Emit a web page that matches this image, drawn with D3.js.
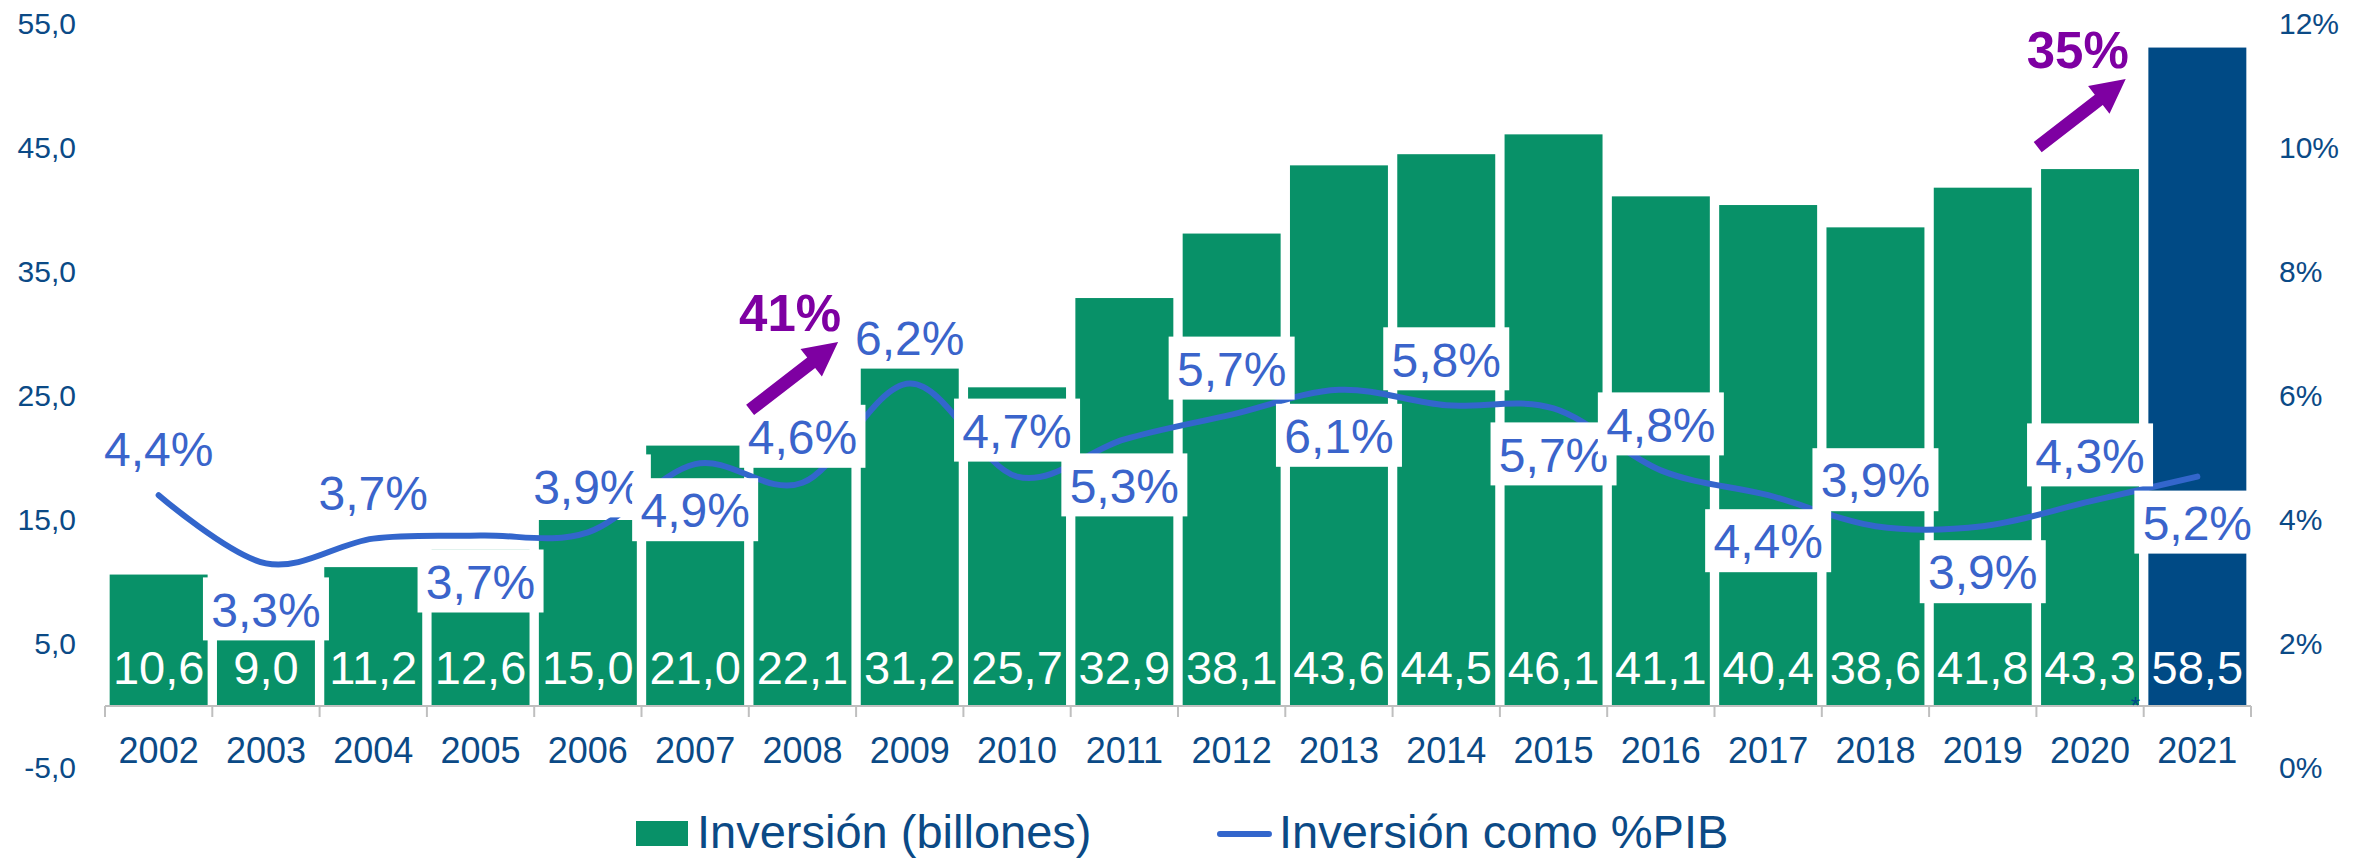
<!DOCTYPE html>
<html>
<head>
<meta charset="utf-8">
<script src="https://cdn.jsdelivr.net/npm/d3@7"></script>
<style>
  body { margin: 0; background: #fff; }
  text { font-family: "Liberation Sans", Arial, sans-serif; }
</style>
</head>
<body>
<div id="chart"></div>
<script>
// Data
var years = ["2002", "2003", "2004", "2005", "2006", "2007", "2008", "2009", "2010", "2011",
  "2012", "2013", "2014", "2015", "2016", "2017", "2018", "2019", "2020", "2021"];
// bar heights as drawn
var inversion = [10.6, 9.0, 11.2, 12.6, 15.0, 21.0, 22.1, 27.3, 25.7, 32.9,
  38.1, 43.6, 44.5, 46.1, 41.1, 40.4, 38.6, 41.8, 43.3, 53.1];
// value labels printed in the bars
var inversionLabels = ["10,6", "9,0", "11,2", "12,6", "15,0", "21,0", "22,1", "31,2", "25,7", "32,9",
  "38,1", "43,6", "44,5", "46,1", "41,1", "40,4", "38,6", "41,8", "43,3", "58,5"];
// line as drawn (% of GDP)
var pib = [4.4, 3.3, 3.7, 3.75, 3.8, 4.9, 4.6, 6.2, 4.7, 5.3,
  5.7, 6.1, 5.85, 5.8, 4.8, 4.4, 3.9, 3.9, 4.3, 4.7];
var pibLabels = ["4,4%", "3,3%", "3,7%", "3,7%", "3,9%", "4,9%", "4,6%", "6,2%", "4,7%", "5,3%",
  "5,7%", "6,1%", "5,8%", "5,7%", "4,8%", "4,4%", "3,9%", "3,9%", "4,3%", "5,2%"];
var pibLabelSide = ["up", "down", "up", "down", "up", "down", "up", "up", "up", "down",
  "up", "down", "up", "down", "up", "down", "up", "down", "up", "down"];
var leftTicks = [-5, 5, 15, 25, 35, 45, 55];
var rightTicks = [0, 2, 4, 6, 8, 10, 12];
var growthNotes = [
  { from: "2008", text: "41%" },
  { from: "2020", text: "35%" }
];
var highlightYear = "2021";
var noteYear = "2020";
var seriesNames = ["Inversión (billones)", "Inversión como %PIB"];

var W = 2372, H = 859,
  green = "#089168",
  navy = "#004a85",
  lineBlue = "#3366cc",
  labelBlue = "#3a64cb",
  purple = "#7e00a2",
  axisText = "#0b4a86";

var svg = d3.select("#chart").append("svg")
  .attr("width", W)
  .attr("height", H);

var x = d3.scaleBand().domain(years).range([105, 2251]).paddingInner(0.087).paddingOuter(0.0435),
  yL = d3.scaleLinear().domain([-5, 55]).range([768, 24]),
  yR = d3.scaleLinear().domain([0, 12]).range([768, 24]);

function cx(d) {
  return x(d) + x.bandwidth() / 2;
}

// Left axis
var leftAxis = svg.append("g")
  .attr("transform", "translate(76,0)")
  .call(d3.axisLeft(yL).tickValues(leftTicks).tickSize(0).tickPadding(0)
    .tickFormat(function(d) { return d.toFixed(1).replace(".", ","); }));
leftAxis.select(".domain").remove();
leftAxis.selectAll("text")
  .style("font-size", "30px")
  .style("fill", axisText)
  .style("font-family", "'Liberation Sans', Arial, sans-serif");

// Right axis
var rightAxis = svg.append("g")
  .attr("transform", "translate(2279,0)")
  .call(d3.axisRight(yR).tickValues(rightTicks).tickSize(0).tickPadding(0)
    .tickFormat(function(d) { return d + "%"; }));
rightAxis.select(".domain").remove();
rightAxis.selectAll("text")
  .style("font-size", "30px")
  .style("fill", axisText)
  .style("font-family", "'Liberation Sans', Arial, sans-serif");

// Bars
svg.append("g").selectAll("rect")
  .data(years)
  .enter().append("rect")
  .attr("x", function(d) { return x(d); })
  .attr("width", x.bandwidth())
  .attr("y", function(d, i) { return yL(inversion[i]); })
  .attr("height", function(d, i) { return yL(0) - yL(inversion[i]); })
  .style("fill", function(d) { return d === highlightYear ? navy : green; });

// X axis line + ticks at category boundaries
var base = yL(0),
  gap = (x.step() - x.bandwidth()) / 2,
  x0 = x(years[0]) - gap;
svg.append("line")
  .attr("x1", x0).attr("x2", x0 + x.step() * years.length)
  .attr("y1", base).attr("y2", base)
  .style("stroke", "#bfbfbf").style("stroke-width", 2);
svg.append("g").selectAll("line")
  .data(d3.range(years.length + 1))
  .enter().append("line")
  .attr("x1", function(i) { return x0 + i * x.step(); })
  .attr("x2", function(i) { return x0 + i * x.step(); })
  .attr("y1", base).attr("y2", base + 11)
  .style("stroke", "#bfbfbf").style("stroke-width", 2);

var xAxis = svg.append("g")
  .attr("transform", "translate(0," + base + ")")
  .call(d3.axisBottom(x).tickSize(0).tickPadding(31));
xAxis.select(".domain").remove();
xAxis.selectAll("text")
  .style("font-size", "36px")
  .style("fill", axisText)
  .style("font-family", "'Liberation Sans', Arial, sans-serif");

// Bar value labels (inside base)
svg.append("g").selectAll("text")
  .data(years)
  .enter().append("text")
  .attr("x", cx)
  .attr("y", base - 22)
  .attr("text-anchor", "middle")
  .style("font-size", "47px")
  .style("fill", "#fff")
  .text(function(d, i) { return inversionLabels[i]; });

// small note mark
svg.append("text")
  .attr("x", x(noteYear) + x.bandwidth() + 1)
  .attr("y", base + 8)
  .attr("text-anchor", "end")
  .style("font-size", "24px")
  .style("fill", navy)
  .text("*");

// Line
var line = d3.line()
  .curve(d3.curveCardinal.tension(0))
  .x(function(d, i) { return cx(years[i]); })
  .y(function(d) { return yR(d); });

svg.append("path")
  .datum(pib)
  .attr("d", line)
  .style("fill", "none")
  .style("stroke", lineBlue)
  .style("stroke-width", 6)
  .style("stroke-linecap", "round");

// Line data labels in white boxes
var labels = svg.append("g").selectAll("g")
  .data(years)
  .enter().append("g")
  .attr("transform", function(d, i) {
    var ly = yR(pib[i]) + (pibLabelSide[i] === "up" ? -46 : 46);
    return "translate(" + cx(d) + "," + ly + ")";
  });
labels.append("rect")
  .attr("x", -63).attr("y", -32)
  .attr("width", 126).attr("height", 63)
  .style("fill", "#fff");
labels.append("text")
  .attr("text-anchor", "middle")
  .attr("dy", "0.36em")
  .style("font-size", "48px")
  .style("fill", labelBlue)
  .text(function(d, i) { return pibLabels[i]; });

// Growth arrows
function arrowPath(tx, ty, hx, hy) {
  var dx = hx - tx, dy = hy - ty,
    len = Math.sqrt(dx * dx + dy * dy),
    ux = dx / len, uy = dy / len,
    px = -uy, py = ux,
    sw = 6.5, hw = 17.5, hl = 34,
    bx = hx - ux * hl, by = hy - uy * hl,
    pts = [
      [tx + px * sw, ty + py * sw],
      [bx + px * sw, by + py * sw],
      [bx + px * hw, by + py * hw],
      [hx, hy],
      [bx - px * hw, by - py * hw],
      [bx - px * sw, by - py * sw],
      [tx - px * sw, ty - py * sw]
    ];
  return "M" + pts.map(function(p) { return p[0] + "," + p[1]; }).join("L") + "Z";
}

growthNotes.forEach(function(n) {
  var i = years.indexOf(n.from),
    edge = x(n.from) + x.bandwidth() + gap,
    tx = edge - 106,
    ty = yL(inversion[i]) - 22;
  svg.append("path")
    .attr("d", arrowPath(tx, ty, tx + 88, ty - 68))
    .style("fill", purple);
  svg.append("text")
    .attr("x", tx + 40)
    .attr("y", ty - 79)
    .attr("text-anchor", "middle")
    .style("font-size", "51px")
    .style("font-weight", "bold")
    .style("fill", purple)
    .text(n.text);
});

// Legend
var legend = svg.append("g");
legend.append("rect")
  .attr("x", 636).attr("y", 821)
  .attr("width", 52).attr("height", 25)
  .style("fill", green);
legend.append("text")
  .attr("x", 697).attr("y", 848)
  .style("font-size", "47px")
  .style("fill", axisText)
  .text(seriesNames[0]);
legend.append("line")
  .attr("x1", 1220).attr("x2", 1269)
  .attr("y1", 834).attr("y2", 834)
  .style("stroke", lineBlue)
  .style("stroke-width", 6)
  .style("stroke-linecap", "round");
legend.append("text")
  .attr("x", 1279).attr("y", 848)
  .style("font-size", "47px")
  .style("fill", axisText)
  .text(seriesNames[1]);
</script>
</body>
</html>
